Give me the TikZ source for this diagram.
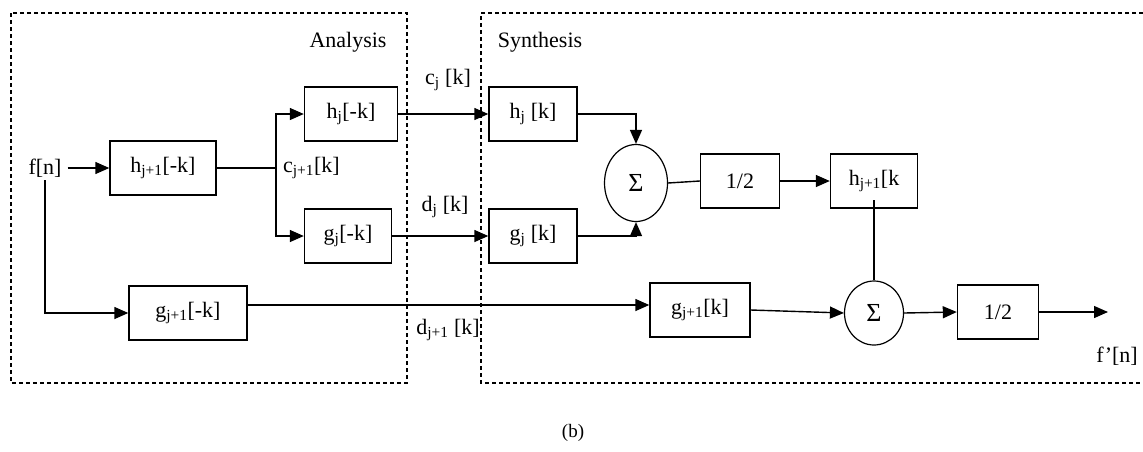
\documentclass[tikz,border=0pt]{standalone}
\usepackage{fontspec}
\setmainfont{Liberation Serif}
\usetikzlibrary{arrows.meta,shapes.geometric}
\tikzset{
  blk/.style={draw,line width=1.4pt,minimum width=#1,minimum height=54pt,inner sep=0pt},
  blk/.default=90pt,
  sumnode/.style={draw,ellipse,line width=1.2pt,inner sep=0pt,font=\fontsize{26}{30}\selectfont},
  lbl/.style={inner sep=0pt},
  wire/.style={line width=1.4pt},
  arr/.style={line width=1.4pt,-{Triangle[length=14pt,width=12pt]}},
  frame/.style={line width=1.2pt,dash pattern=on 4pt off 3pt}
}
\begin{document}
\begin{tikzpicture}[x=1pt,y=-1pt,font=\fontsize{22}{26}\selectfont]
\useasboundingbox (0,0) rectangle (1143,451);
% frames
\draw[frame] (11,13) rectangle (407,383);
\draw[frame] (1143,13) -- (481,13) -- (481,383) -- (1143,383);
\node[lbl] (tana) at (348,42) {Analysis};
\node[lbl] (tsyn) at (540,42) {Synthesis};
% analysis
\node[lbl] (f) at (45,168) {f[n]};
\node[blk=106pt] (b1) at (163,168) {h\textsubscript{j+1}[-k]};
\node[blk=93pt] (hjmk) at (351,114) {h\textsubscript{j}[-k]};
\node[blk=87pt] (gjmk) at (348,236) {g\textsubscript{j}[-k]};
\node[blk=118pt] (gj1mk) at (188,313) {g\textsubscript{j+1}[-k]};
\coordinate (J) at (276,168);
\node[lbl,anchor=west] (cj1) at (283,168) {c\textsubscript{j+1}[k]};
% synthesis
\node[blk=88pt] (hjk) at (533,114) {h\textsubscript{j} [k]};
\node[blk=88pt] (gjk) at (533,236) {g\textsubscript{j} [k]};
\node[sumnode,minimum width=63pt,minimum height=77pt] (s1) at (636,183) {Σ};
\node[blk=79pt] (h1) at (740,181) {1/2};
\node[blk=87pt] (hj1k) at (874,181) {h\textsubscript{j+1}[k};
\node[blk=100pt] (gj1k) at (700,310) {g\textsubscript{j+1}[k]};
\node[sumnode,minimum width=59pt,minimum height=64pt] (s2) at (874,313) {Σ};
\node[blk=81pt] (h2) at (998,312) {1/2};
\coordinate (out) at (1108,312);
\node[lbl] (fo) at (1117,356) {f’[n]};
% labels on wires
\node[lbl] (cj) at (448,80) {c\textsubscript{j} [k]};
\node[lbl] (dj) at (445,207) {d\textsubscript{j} [k]};
\node[lbl] (dj1) at (448,330) {d\textsubscript{j+1} [k]};
\node[lbl,font=\fontsize{19}{22}\selectfont] (cap) at (573,433) {(b)};
% connectors
\draw[arr,shorten <=6pt] (f.east) -- (b1.west);
\draw[wire] (b1.east) -- (J);
\draw[arr] (J) |- (hjmk.west);
\draw[arr] (J) |- (gjmk.west);
\draw[arr,shorten <=3pt] (f.south) |- (gj1mk.west);
\draw[arr] (hjmk.east) -- (hjk.west);
\draw[arr] (gjmk.east) -- (gjk.west);
\draw[arr] ([yshift=8pt]gj1mk.east) -- ([yshift=8pt]gj1mk.east -| gj1k.west);
\draw[arr] (hjk.east) -| (s1.north);
\draw[arr] (gjk.east) -| (s1.south);
\draw[wire] (s1.east) -- (h1.west);
\draw[arr] (h1.east) -- (hj1k.west);
\draw[wire] ([yshift=-19pt]hj1k.center) -- (s2.north);
\draw[arr] (gj1k.east) -- (s2.west);
\draw[arr] (s2.east) -- (h2.west);
\draw[arr] (h2.east) -- (out);
\end{tikzpicture}
\end{document}
